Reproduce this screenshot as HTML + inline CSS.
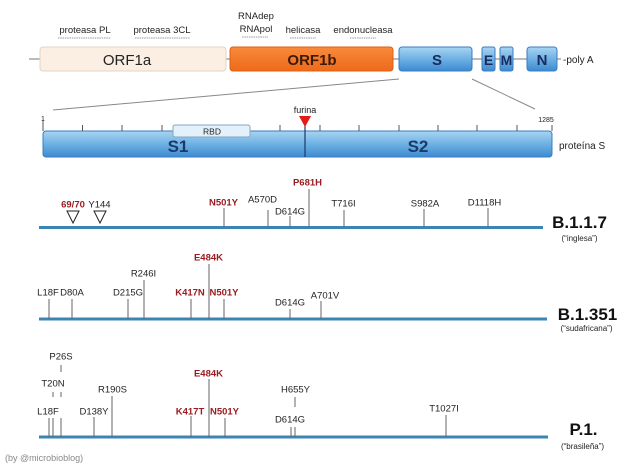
<!DOCTYPE html>
<html><head><meta charset="utf-8"><style>
html,body{margin:0;padding:0;background:#fff;}
svg{display:block;font-family:"Liberation Sans",sans-serif;}
</style></head><body>
<svg width="624" height="468" viewBox="0 0 624 468" xmlns="http://www.w3.org/2000/svg">
<defs>
<linearGradient id="bl" x1="0" y1="0" x2="0" y2="1">
<stop offset="0" stop-color="#a9d4f2"/><stop offset="0.5" stop-color="#6eb1e4"/><stop offset="1" stop-color="#3d8ad0"/>
</linearGradient>
<linearGradient id="or" x1="0" y1="0" x2="0" y2="1">
<stop offset="0" stop-color="#f88a3c"/><stop offset="1" stop-color="#ee6a1a"/>
</linearGradient>
</defs>

<!-- top labels -->
<g font-size="9.5" fill="#222" text-anchor="middle">
<text x="85" y="33">proteasa PL</text>
<text x="162" y="33">proteasa 3CL</text>
<text x="256" y="19">RNAdep</text>
<text x="256" y="32">RNApol</text>
<text x="303" y="33">helicasa</text>
<text x="363" y="33">endonucleasa</text>
</g>
<g stroke="#999" stroke-width="1" stroke-dasharray="1.5,0.8">
<line x1="58" y1="38" x2="111" y2="38"/>
<line x1="135" y1="38" x2="190" y2="38"/>
<line x1="242" y1="37" x2="268" y2="37"/>
<line x1="290" y1="38" x2="316" y2="38"/>
<line x1="350" y1="38" x2="376" y2="38"/>
</g>

<!-- genome -->
<g stroke="#777" stroke-width="1">
<line x1="29" y1="59" x2="40" y2="59"/>
<line x1="226" y1="59" x2="230" y2="59"/>
<line x1="393" y1="59" x2="399" y2="59"/>
<line x1="472" y1="59" x2="482" y2="59"/>
<line x1="495" y1="59" x2="500" y2="59"/>
<line x1="513" y1="59" x2="527" y2="59"/>
<line x1="557" y1="59" x2="561" y2="59"/>
</g>
<rect x="40" y="47" width="186" height="24" rx="3" fill="#fbefe4" stroke="#e3d3c4" stroke-width="1"/>
<rect x="230" y="47" width="163" height="24" rx="3" fill="url(#or)" stroke="#e06012" stroke-width="1"/>
<rect x="399" y="47" width="73" height="24" rx="3" fill="url(#bl)" stroke="#3a7cc0" stroke-width="1"/>
<rect x="482" y="47" width="13" height="24" rx="2" fill="url(#bl)" stroke="#3a7cc0" stroke-width="1"/>
<rect x="500" y="47" width="13" height="24" rx="2" fill="url(#bl)" stroke="#3a7cc0" stroke-width="1"/>
<rect x="527" y="47" width="30" height="24" rx="3" fill="url(#bl)" stroke="#3a7cc0" stroke-width="1"/>
<g font-size="15" text-anchor="middle">
<text x="127" y="65" fill="#222">ORF1a</text>
<text x="312" y="65" fill="#3a1a08" font-weight="bold">ORF1b</text>
<text x="437" y="65" fill="#1a2a5a" font-weight="bold">S</text>
<text x="488.5" y="65" fill="#1a2a5a" font-weight="bold" font-size="14">E</text>
<text x="506.5" y="65" fill="#1a2a5a" font-weight="bold" font-size="14">M</text>
<text x="542" y="65" fill="#1a2a5a" font-weight="bold">N</text>
</g>
<text x="563" y="63" font-size="10" fill="#222">-poly A</text>

<!-- zoom lines -->
<g stroke="#888" stroke-width="1">
<line x1="53" y1="110" x2="399" y2="79"/>
<line x1="472" y1="79" x2="535" y2="109"/>
</g>

<!-- S protein -->
<rect x="43" y="131" width="509" height="26" rx="3" fill="url(#bl)" stroke="#3a7cc0" stroke-width="1"/>
<g stroke="#555" stroke-width="1">
<line x1="43" y1="120" x2="43" y2="131"/>
<line x1="82.5" y1="125" x2="82.5" y2="131"/>
<line x1="122" y1="125" x2="122" y2="131"/>
<line x1="162" y1="125" x2="162" y2="131"/>
<line x1="280" y1="125" x2="280" y2="131"/>
<line x1="320" y1="125" x2="320" y2="131"/>
<line x1="359" y1="125" x2="359" y2="131"/>
<line x1="399" y1="125" x2="399" y2="131"/>
<line x1="438" y1="125" x2="438" y2="131"/>
<line x1="477" y1="125" x2="477" y2="131"/>
<line x1="517" y1="125" x2="517" y2="131"/>
<line x1="552" y1="125" x2="552" y2="131"/>
</g>
<text x="43" y="121" font-size="7" fill="#222" text-anchor="middle">1</text>
<text x="546" y="122" font-size="7" fill="#222" text-anchor="middle">1285</text>
<rect x="173" y="125" width="77" height="12" rx="2" fill="#e2f1fb" stroke="#8aa6b8" stroke-width="1"/>
<text x="212" y="134.5" font-size="8.5" fill="#222" text-anchor="middle">RBD</text>
<line x1="305" y1="125" x2="305" y2="157" stroke="#1a3a6a" stroke-width="1.2"/>
<polygon points="299,116 311,116 305,127" fill="#e21b1b"/>
<text x="305" y="113" font-size="9" fill="#222" text-anchor="middle">furina</text>
<text x="178" y="152" font-size="17" fill="#1a3a6a" font-weight="bold" text-anchor="middle">S1</text>
<text x="418" y="152" font-size="17" fill="#1a3a6a" font-weight="bold" text-anchor="middle">S2</text>
<text x="559" y="149" font-size="10" fill="#222">proteína S</text>

<!-- B.1.1.7 -->
<line x1="39" y1="227.5" x2="543" y2="227.5" stroke="#3b85b5" stroke-width="3"/>
<g stroke="#666" stroke-width="1">
<line x1="224" y1="208" x2="224" y2="227"/>
<line x1="268" y1="210" x2="268" y2="227"/>
<line x1="290" y1="216" x2="290" y2="227"/>
<line x1="309" y1="189" x2="309" y2="227"/>
<line x1="344" y1="210" x2="344" y2="227"/>
<line x1="424" y1="209" x2="424" y2="227"/>
<line x1="488" y1="208" x2="488" y2="227"/>
</g>
<polygon points="67,211 79,211 73,223" fill="#fff" stroke="#222" stroke-width="1"/>
<polygon points="94,211 106,211 100,223" fill="#fff" stroke="#222" stroke-width="1"/>
<g font-size="9.5" text-anchor="middle" fill="#222">
<text x="73" y="207.5" fill="#9a1a1f" font-weight="bold">69/70</text>
<text x="99.5" y="207.5">Y144</text>
<text x="223.5" y="205.5" fill="#9a1a1f" font-weight="bold">N501Y</text>
<text x="262.5" y="202.5">A570D</text>
<text x="290" y="214.5">D614G</text>
<text x="307.5" y="185.5" fill="#9a1a1f" font-weight="bold">P681H</text>
<text x="343.5" y="206.5">T716I</text>
<text x="425" y="206.5">S982A</text>
<text x="484.5" y="205.5">D1118H</text>
</g>
<text x="579.5" y="228" font-size="17" font-weight="bold" fill="#111" text-anchor="middle">B.1.1.7</text>
<text x="579.5" y="241" font-size="8" fill="#222" text-anchor="middle">(“inglesa”)</text>

<!-- B.1.351 -->
<line x1="39" y1="319" x2="547" y2="319" stroke="#3b85b5" stroke-width="3"/>
<g stroke="#666" stroke-width="1">
<line x1="49" y1="299" x2="49" y2="319"/>
<line x1="72" y1="299" x2="72" y2="319"/>
<line x1="128" y1="299" x2="128" y2="319"/>
<line x1="144" y1="280" x2="144" y2="319"/>
<line x1="191" y1="299" x2="191" y2="319"/>
<line x1="209" y1="264" x2="209" y2="319"/>
<line x1="224" y1="299" x2="224" y2="319"/>
<line x1="290" y1="309" x2="290" y2="319"/>
<line x1="321" y1="301" x2="321" y2="319"/>
</g>
<g font-size="9.5" text-anchor="middle" fill="#222">
<text x="48" y="295.5">L18F</text>
<text x="72" y="295.5">D80A</text>
<text x="128" y="295.5">D215G</text>
<text x="143.5" y="276.5">R246I</text>
<text x="190" y="295.5" fill="#9a1a1f" font-weight="bold">K417N</text>
<text x="208.5" y="260.5" fill="#9a1a1f" font-weight="bold">E484K</text>
<text x="224" y="295.5" fill="#9a1a1f" font-weight="bold">N501Y</text>
<text x="290" y="305.5">D614G</text>
<text x="325" y="298.5">A701V</text>
</g>
<text x="587.5" y="320" font-size="17" font-weight="bold" fill="#111" text-anchor="middle">B.1.351</text>
<text x="586.5" y="331" font-size="8" fill="#222" text-anchor="middle">(“sudafricana”)</text>

<!-- P.1 -->
<line x1="39" y1="437" x2="548" y2="437" stroke="#3b85b5" stroke-width="3"/>
<g stroke="#666" stroke-width="1">
<line x1="61" y1="365" x2="61" y2="372"/>
<line x1="53" y1="392" x2="53" y2="397"/>
<line x1="61" y1="392" x2="61" y2="397"/>
<line x1="49" y1="418" x2="49" y2="437"/>
<line x1="53" y1="418" x2="53" y2="437"/>
<line x1="61" y1="418" x2="61" y2="437"/>
<line x1="94" y1="417" x2="94" y2="437"/>
<line x1="112" y1="396" x2="112" y2="437"/>
<line x1="191" y1="416" x2="191" y2="437"/>
<line x1="209" y1="379" x2="209" y2="437"/>
<line x1="225" y1="418" x2="225" y2="437"/>
<line x1="291" y1="427" x2="291" y2="437"/>
<line x1="295" y1="427" x2="295" y2="437"/>
<line x1="295" y1="397" x2="295" y2="407"/>
<line x1="446" y1="415" x2="446" y2="437"/>
</g>
<g font-size="9.5" text-anchor="middle" fill="#222">
<text x="61" y="359.5">P26S</text>
<text x="53" y="386.5">T20N</text>
<text x="48" y="414.5">L18F</text>
<text x="94" y="414.5">D138Y</text>
<text x="112.5" y="392.5">R190S</text>
<text x="190" y="414.5" fill="#9a1a1f" font-weight="bold">K417T</text>
<text x="208.5" y="376.5" fill="#9a1a1f" font-weight="bold">E484K</text>
<text x="224.5" y="414.5" fill="#9a1a1f" font-weight="bold">N501Y</text>
<text x="290" y="422.5">D614G</text>
<text x="295.5" y="392.5">H655Y</text>
<text x="444" y="411.5">T1027I</text>
</g>
<text x="583.5" y="435" font-size="17" font-weight="bold" fill="#111" text-anchor="middle">P.1.</text>
<text x="582.5" y="449" font-size="8" fill="#222" text-anchor="middle">(“brasileña”)</text>

<text x="5" y="461" font-size="9" fill="#888">(by @microbioblog)</text>
</svg>
</body></html>
